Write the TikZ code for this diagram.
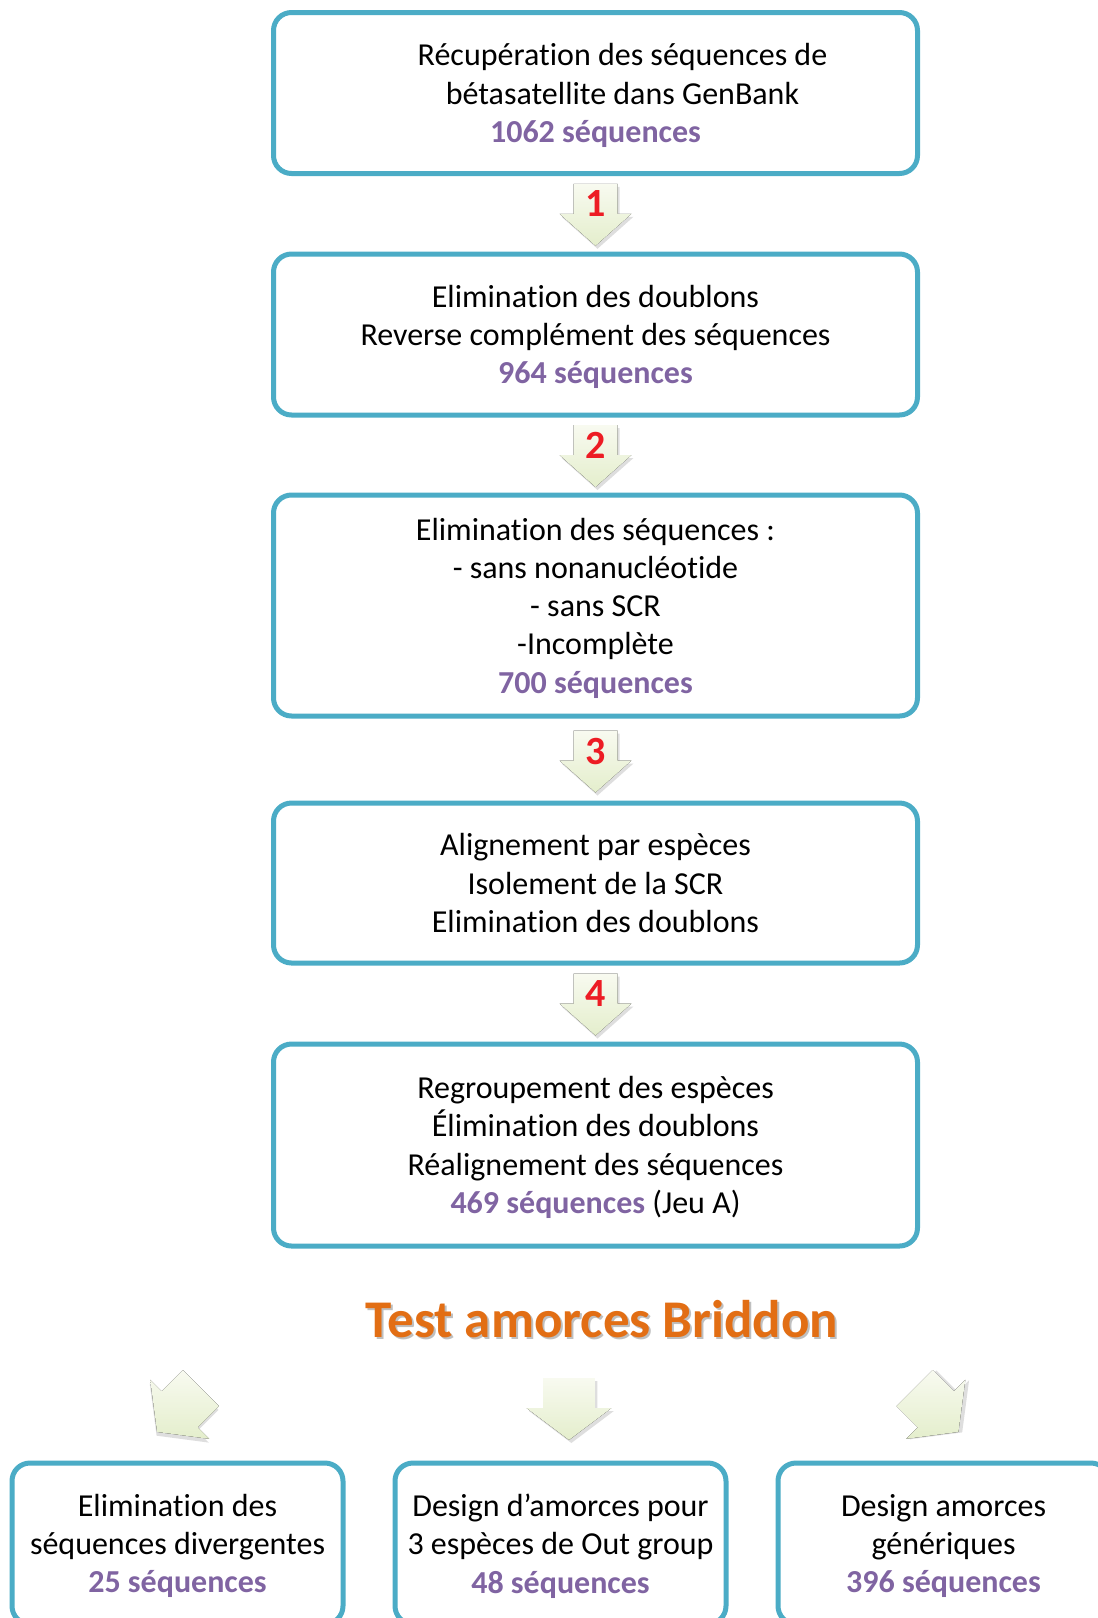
\documentclass[tikz,border=0pt]{standalone}
\usepackage{fontspec}
\setmainfont{Carlito}[Ligatures=NoCommon]
\usepackage{xcolor}
\usepackage{tikz}
\usetikzlibrary{positioning, calc}
\definecolor{boxteal}{RGB}{75,172,198}
\definecolor{seqpurple}{RGB}{128,100,162}
\definecolor{numred}{RGB}{237,28,36}
\definecolor{titleorange}{RGB}{226,110,20}
\definecolor{arrowtop}{RGB}{248,250,240}
\definecolor{arrowbot}{RGB}{228,238,204}
\newcommand{\seqcount}[1]{{\color{seqpurple}\bfseries #1}}
\tikzset{
  stepbox/.style={rectangle, draw=boxteal, fill=white, line width=5pt,
    rounded corners=18pt, minimum width=644pt, align=center,
    font=\fontsize{32}{38.3}\selectfont, inner sep=0pt, text depth=0pt},
  endbox/.style={stepbox, minimum width=331pt, minimum height=161pt},
  stepnum/.style={font=\fontsize{40}{40}\selectfont\bfseries, text=numred, inner sep=0pt},
  titletext/.style={font=\fontsize{53}{53}\selectfont\bfseries, text=titleorange, inner sep=0pt},
  flowarrow/.pic={
    \fill[black, opacity=0.13] (-20,28) -- (24,28) -- (24,-2) -- (38,-2) -- (2,-34) -- (-34,-2) -- (-20,-2) -- cycle;
    \fill[top color=arrowtop, bottom color=arrowbot] (-22,31) -- (22,31) -- (22,1) -- (36,1) -- (0,-31) -- (-36,1) -- (-22,1) -- cycle;
  }
}

\begin{document}
\begin{tikzpicture}[x=1pt, y=1pt]
  \useasboundingbox (0,0) rectangle (1098,-1618);
  \clip (0,0) rectangle (1098,-1618);

  % Main chain of steps
  \node[stepbox, minimum height=161pt] (b1) at (595.5,-93)
    {\hspace*{54pt}Récupération des séquences de\\ \hspace*{54pt}bétasatellite dans GenBank\\ \seqcount{1062 séquences}};
  \node[stepbox, minimum height=161pt] (b2) at (595.5,-334.5)
    {Elimination des doublons\\ Reverse complément des séquences\\ \seqcount{964 séquences}};
  \node[stepbox, minimum height=221pt] (b3) at (595.5,-605.5)
    {Elimination des séquences :\\ - sans nonanucléotide\\ - sans SCR\\ -Incomplète\\ \seqcount{700 séquences}};
  \node[stepbox, minimum height=160pt] (b4) at (595.5,-883)
    {Alignement par espèces\\ Isolement de la SCR\\ Elimination des doublons};
  \node[stepbox, minimum height=202pt] (b5) at (595.5,-1145)
    {Regroupement des espèces\\ Élimination des doublons\\ Réalignement des séquences\\ \seqcount{469 séquences} (Jeu A)};

  % Numbered arrows between the steps
  \coordinate (a1) at ($(b1.south)!0.5!(b2.north)$);
  \coordinate (a2) at ($(b2.south)!0.5!(b3.north)$);
  \coordinate (a3) at ($(b3.south)!0.5!(b4.north)$);
  \coordinate (a4) at ($(b4.south)!0.5!(b5.north)$);
  \pic at ($(a1)+(0,-1)$) {flowarrow};
  \pic at ($(a2)+(0,-1)$) {flowarrow};
  \pic at ($(a3)+(0,-2)$) {flowarrow};
  \pic at ($(a4)+(0,-1)$) {flowarrow};
  \node[stepnum] (n1) at ($(a1)+(0,10)$) {1};
  \node[stepnum] (n2) at ($(a2)+(0,10)$) {2};
  \node[stepnum] (n3) at ($(a3)+(0,8)$) {3};
  \node[stepnum] (n4) at ($(a4)+(0,10)$) {4};

  % Title of the primer test
  \node[titletext, text=black, opacity=0.25] (titleshadow) at (604,-1321) {Test amorces Briddon};
  \node[titletext] (title) at (602,-1319) {Test amorces Briddon};

  % Three outcomes
  \pic[rotate=-45, xscale=1.16] at (179,-1410) {flowarrow};
  \pic[xscale=1.18] at (569,-1409) {flowarrow};
  \pic[rotate=45, xscale=1.16] at (936.5,-1410) {flowarrow};
  \node[endbox] (c1) at (177.5,-1543.5)
    {Elimination des\\ séquences divergentes\\ \seqcount{25 séquences}};
  \node[endbox] (c2) at (560.5,-1543.5)
    {Design d’amorces pour\\ 3 espèces de Out group\\ \seqcount{48 séquences}};
  \node[endbox] (c3) at (943.5,-1543.5)
    {Design amorces\\ génériques\\ \seqcount{396 séquences}};
\end{tikzpicture}
\end{document}
